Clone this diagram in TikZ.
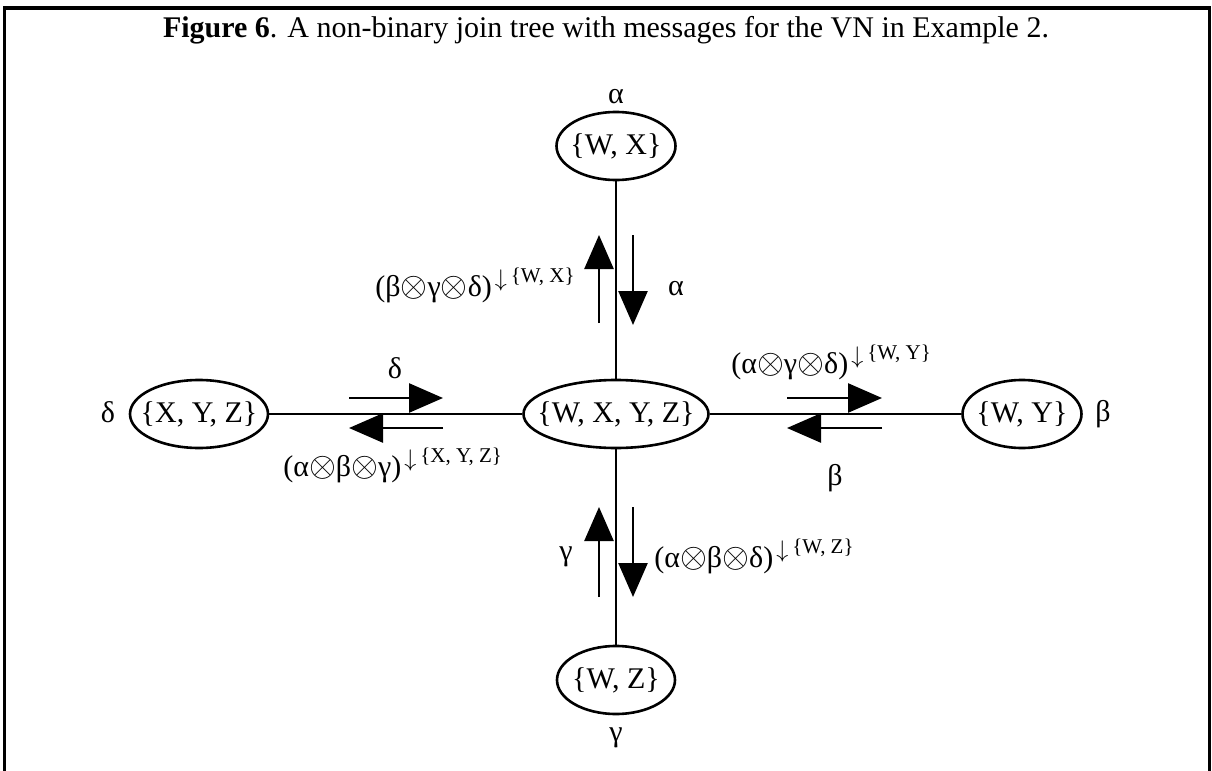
\documentclass[tikz,border=0pt]{standalone}
\usepackage{fontspec}
\setmainfont{Liberation Serif}
\usetikzlibrary{shapes.geometric,arrows.meta}
\newcommand{\msgsup}[1]{\kern1.5pt\raisebox{5pt}{\fontsize{12}{12}\selectfont$\downarrow$}\raisebox{7pt}{\fontsize{10.5}{11}\selectfont\kern2pt\{#1\}}}
\newcommand{\ot}{\scalebox{1.2}{$\otimes$}}
\newcommand{\ctext}[1]{\makebox[0pt]{#1}}
\begin{document}
\begin{tikzpicture}[x=0.5pt,y=-0.5pt,
  every node/.style={font=\fontsize{15}{18}\selectfont, inner sep=0pt},
  setnode/.style={ellipse, draw, line width=1.3pt, minimum height=34pt, inner sep=0pt},
  edgeline/.style={line width=1.3pt},
  msg/.style={line width=1.3pt, -{Triangle[length=17pt,width=14.5pt]}}
]
\useasboundingbox (0,0) rectangle (1212,771);
\draw[line width=1.6pt] (4.5,771) -- (4.5,8) -- (1209.5,8) -- (1209.5,771);

\node[anchor=base] (cap) at (606,38) {\textbf{Figure 6}. A non-binary join tree with messages for the VN in Example 2.};

\node[setnode, minimum width=92.5pt] (c) at (616,414) {\ctext{\{W, X, Y, Z\}}};
\node[setnode, minimum width=59.5pt] (n) at (616,146) {\ctext{\{W, X\}}};
\node[setnode, minimum width=59pt] (s) at (616,680) {\ctext{\{W, Z\}}};
\node[setnode, minimum width=69pt] (w) at (199,414) {\ctext{\{X, Y, Z\}}};
\node[setnode, minimum width=59.5pt] (e) at (1022,414) {\ctext{\{W, Y\}}};

\node (la) at (616,97) {α};
\node (lg) at (616,738) {γ};
\node (ld) at (108,412) {δ};
\node (lb) at (1103,414) {β};

\draw[edgeline] (c) -- (n);
\draw[edgeline] (c) -- (s);
\draw[edgeline] (c) -- (w);
\draw[edgeline] (c) -- (e);

% north arrows
\coordinate (nu1) at (599,323); \coordinate (nu2) at (599,235);
\coordinate (nd1) at (633,235); \coordinate (nd2) at (633,325);
\draw[msg] (nu1) -- (nu2);
\draw[msg] (nd1) -- (nd2);
% south arrows
\coordinate (su1) at (599,597); \coordinate (su2) at (599,507);
\coordinate (sd1) at (633,507); \coordinate (sd2) at (633,597);
\draw[msg] (su1) -- (su2);
\draw[msg] (sd1) -- (sd2);
% west arrows
\coordinate (wr1) at (349,398); \coordinate (wr2) at (443,398);
\coordinate (wl1) at (443,428); \coordinate (wl2) at (349,428);
\draw[msg] (wr1) -- (wr2);
\draw[msg] (wl1) -- (wl2);
% east arrows
\coordinate (er1) at (787,398); \coordinate (er2) at (882,398);
\coordinate (el1) at (882,428); \coordinate (el2) at (787,428);
\draw[msg] (er1) -- (er2);
\draw[msg] (el1) -- (el2);

\node[anchor=base east] (m1) at (575,296) {(β\ot γ\ot δ)\msgsup{W, X}};
\node[anchor=base] (m1b) at (676,295) {α};
\node (m2a) at (395,368) {δ};
\node[anchor=base west] (m2) at (283,476) {(α\ot β\ot γ)\msgsup{X, Y, Z}};
\node[anchor=base west] (m3) at (731,373) {(α\ot γ\ot δ)\msgsup{W, Y}};
\node (m3b) at (835,478) {β};
\node[anchor=base west] (m4) at (654,567) {(α\ot β\ot δ)\msgsup{W, Z}};
\node (m4b) at (566,557) {γ};
\end{tikzpicture}
\end{document}
